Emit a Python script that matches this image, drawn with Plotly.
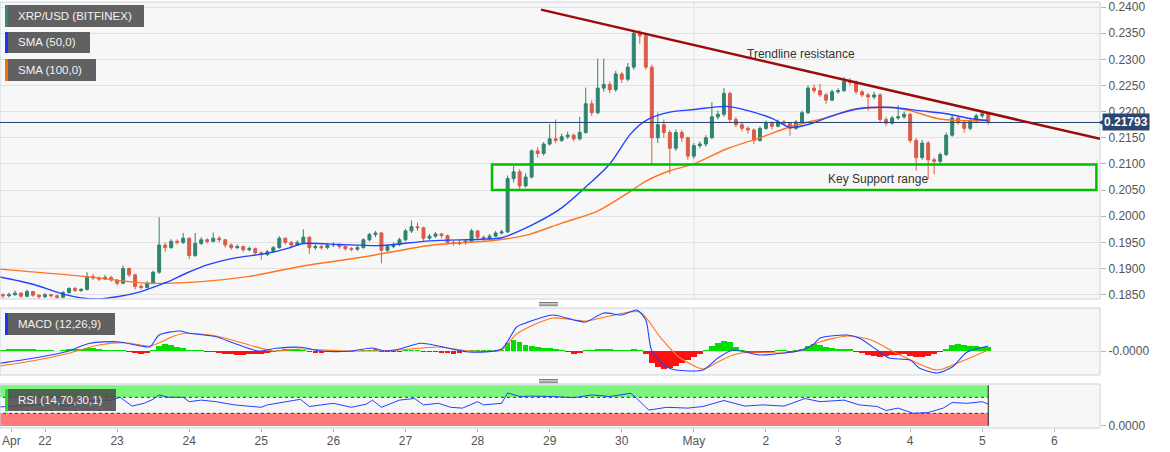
import pandas as pd
import plotly.graph_objects as go

# ---------------- data ----------------
BASE = pd.Timestamp("2020-04-22 00:00")


def at(h):
    return BASE + pd.Timedelta(hours=h)


CANDLE_START = "2020-04-21 10:00"   # 2-hour candles
first_open = 0.1850
close = [
    .1848, .1850, .1853, .1847, .1856, .1849, .1846, .1850, .1848, .1845,
    .1854, .1862, .1858, .1860, .1885, .1882, .1880, .1883, .1878, .1872,
    .1900, .1888, .1866, .1864, .1872, .1893, .1945, .1940, .1952, .1950,
    .1958, .1925, .1948, .1955, .1952, .1958, .1955, .1945, .1940, .1942,
    .1936, .1938, .1930, .1927, .1932, .1940, .1958, .1950, .1945, .1950,
    .1960, .1940, .1942, .1940, .1945, .1946, .1942, .1938, .1937, .1940,
    .1955, .1965, .1968, .1935, .1942, .1946, .1955, .1972, .1980, .1978,
    .1958, .1962, .1966, .1963, .1950, .1948, .1950, .1952, .1972, .1960,
    .1958, .1962, .1968, .1970, .2072, .2085, .2058, .2075, .2125, .2120,
    .2138, .2148, .2145, .2152, .2155, .2148, .2160, .2215, .2198, .2245,
    .2252, .2242, .2272, .2262, .2285, .2350, .2345, .2285, .2150, .2175,
    .2160, .2130, .2160, .2150, .2115, .2135, .2138, .2150, .2190, .2195,
    .2235, .2185, .2175, .2168, .2165, .2145, .2168, .2178, .2172, .2180,
    .2178, .2168, .2180, .2198, .2245, .2240, .2232, .2222, .2238, .2240,
    .2258, .2256, .2238, .2232, .2228, .2232, .2185, .2178, .2188, .2190,
    .2195, .2145, .2112, .2140, .2108, .2105, .2118, .2155, .2188, .2180,
    .2168, .2182, .2192, .2196, .21793]
high = [
    .1853, .1854, .1858, .1855, .1860, .1857, .1851, .1853, .1852, .1850,
    .1857, .1864, .1865, .1863, .1893, .1890, .1885, .1888, .1886, .1880,
    .1906, .1902, .1890, .1870, .1876, .1896, .1998, .1950, .1956, .1956,
    .1968, .1960, .1968, .1960, .1958, .1969, .1962, .1957, .1948, .1946,
    .1944, .1942, .1940, .1933, .1936, .1943, .1962, .1960, .1953, .1954,
    .1975, .1962, .1946, .1945, .1948, .1950, .1948, .1944, .1941, .1944,
    .1958, .1968, .1972, .1970, .1946, .1950, .1959, .1976, .1992, .1988,
    .1980, .1966, .1970, .1968, .1965, .1953, .1954, .1956, .1976, .1974,
    .1963, .1966, .1972, .1974, .2078, .2096, .2090, .2082, .2128, .2132,
    .2142, .2176, .2185, .2158, .2162, .2158, .2190, .2246, .2222, .2301,
    .2301, .2258, .2278, .2276, .2293, .2356, .2356, .2348, .2290, .2198,
    .2185, .2165, .2166, .2165, .2152, .2140, .2143, .2155, .2218, .2202,
    .2245, .2238, .2190, .2180, .2172, .2168, .2172, .2183, .2182, .2185,
    .2184, .2180, .2184, .2202, .2250, .2252, .2253, .2236, .2242, .2245,
    .2266, .2264, .2260, .2242, .2236, .2238, .2235, .2190, .2192, .2212,
    .2200, .2198, .2150, .2146, .2144, .2112, .2122, .2160, .2194, .2192,
    .2184, .2186, .2196, .2202, .2200]
low = [
    .1843, .1845, .1848, .1844, .1845, .1846, .1842, .1844, .1845, .1842,
    .1844, .1852, .1855, .1855, .1858, .1878, .1876, .1878, .1875, .1868,
    .1870, .1884, .1860, .1860, .1862, .1870, .1890, .1932, .1938, .1946,
    .1947, .1918, .1922, .1945, .1948, .1950, .1950, .1940, .1936, .1937,
    .1932, .1933, .1926, .1917, .1924, .1930, .1938, .1946, .1941, .1943,
    .1948, .1928, .1936, .1936, .1937, .1941, .1938, .1934, .1933, .1934,
    .1938, .1952, .1960, .1910, .1932, .1939, .1943, .1952, .1968, .1972,
    .1953, .1955, .1959, .1958, .1946, .1944, .1945, .1946, .1950, .1955,
    .1952, .1955, .1960, .1965, .1968, .2065, .2050, .2055, .2072, .2112,
    .2116, .2135, .2140, .2142, .2148, .2143, .2145, .2158, .2192, .2195,
    .2238, .2235, .2238, .2255, .2258, .2280, .2330, .2280, .2100, .2140,
    .2150, .2081, .2125, .2142, .2108, .2110, .2130, .2133, .2148, .2185,
    .2190, .2178, .2170, .2162, .2158, .2138, .2142, .2165, .2166, .2170,
    .2174, .2154, .2165, .2177, .2195, .2235, .2228, .2215, .2220, .2234,
    .2238, .2250, .2233, .2228, .2202, .2224, .2180, .2172, .2175, .2184,
    .2186, .2140, .2087, .2108, .2071, .2080, .2100, .2115, .2152, .2175,
    .2160, .2164, .2178, .2188, .2175]

# moving averages (hours from Apr 22 00:00, value)
sma50_h = [-15, -4, 5, 12, 18, 24, 32, 35, 41, 47, 54, 63, 74, 81, 86, 98, 112, 128, 145, 152,
           161, 172, 181, 188, 195, 200, 208, 216, 227, 234, 242, 248, 255, 262, 271, 282, 291, 300, 308, 314]
sma50_v = [.1884, .1870, .1853, .1844, .1842, .1846, .1856, .1862, .1875, .1891, .1907, .1920, .1929, .1939,
           .1948, .1946, .1944, .1953, .1956, .1959, .1980, .2016, .2061, .2100, .2158, .2183, .2199, .2204,
           .2210, .2202, .2187, .2170, .2177, .2192, .2206, .2208, .2202, .2196, .2187, .2183]
sma100_h = [-15, 13, 34, 52, 68, 85, 107, 129, 150, 161, 172, 184, 195, 200, 208, 216, 227, 238, 249, 260,
            269, 282, 288, 297, 305, 314]
sma100_v = [.1899, .1885, .1872, .1875, .1885, .1904, .1923, .1945, .1954, .1965, .1987, .2010, .2048, .2067,
            .2087, .2100, .2129, .2150, .2173, .2188, .2204, .2208, .2202, .2187, .2183, .2183]

# MACD (units of 1e-4)
macd_h = [-15, -4, 7, 15, 24, 32, 35, 38, 45, 48, 57, 63, 71, 77, 85, 92, 102, 109, 113, 118, 125, 131, 141,
          152, 157, 160, 169, 176, 180, 186, 192, 197, 200, 202, 207, 210, 219, 224, 229, 233, 238, 246, 252,
          256, 258, 267, 271, 277, 281, 288, 291, 297, 302, 307, 314]
macd_v = [-12.3, -7.3, -0.7, 7.7, 9.3, 5, 4.3, 16, 20, 17.7, 14.3, 7.7, 0, 2.7, 3.7, 0, 0, 3, 0, 2, 7.7, 5, -1,
          2, 24, 28, 36, 31, 29, 38, 36, 41, 31, 0, -16, -19, -19, -7, 1, -1, -4, -2, 1, 7, 13, 16, 13, 1, -7,
          -9, -17, -22, -16, -1, 5]
signal_h = [-15, -4, 7, 18, 27, 35, 43, 47, 57, 68, 76, 85, 96, 107, 118, 131, 141, 152, 157, 169, 180, 188,
            198, 205, 211, 219, 224, 229, 235, 246, 252, 258, 267, 275, 284, 297, 303, 314]
signal_v = [-15, -9.7, -3, 6, 8.3, 5, 15, 17.7, 15, 6, 0, 2, 0.5, 0, 1, 4, 0, 1, 17, 33, 30, 35, 39, 13, -6,
            -18, -11, -4, -1, -2, 1, 9, 15, 11, -3, -19, -13, 1]
hist = [
    1, 1.5, 2, 2, 1.5, 1.5, 1, 0.5, 0.3, 0,
    0.5, 1.5, 2, 2.5, 3.5, 3, 2, 1, 0.5, 0.3,
    0.5, -0.5, -2, -2.5, -1.5, 1, 5, 7, 6, 4.5,
    3, 0.5, 0.5, 0.3, -0.5, -1, -2, -2.5, -3, -3.5,
    -3.5, -3, -3, -2.5, -1.5, -0.5, 1, 1.5, 1.5, 1.5,
    1, -0.5, -1.5, -1.5, -1, -0.5, 0, -0.3, -0.3, 0,
    0.5, 1, 1.2, -0.5, -1, -1, -0.5, 0.5, 1, 0.5,
    -0.5, -1, -1, -1.5, -2, -2.5, -2, -1, 0.5, 0.5,
    0.3, 0.5, 0.8, 1, 8, 11, 9, 6, 5, 4,
    3.5, 3, 2, 1, -1, -2.5, -1.5, 0.5, 1, 2,
    2.5, 2, 1, 0.5, 0.8, 1.5, 0.5, -3, -12, -16,
    -18, -17, -15, -12, -9, -6, -3, 1, 5, 8,
    10, 9, 4, 1, -1.5, -2, -1.5, -0.5, -0.3, 0.5,
    0.3, -0.5, 0.5, 1.5, 5, 7, 6, 4, 3, 2,
    2, 1.5, -0.5, -2, -3.5, -5, -6, -5, -4, -3.5,
    -3, -5, -6, -6, -5, -3, -1, 2, 6, 7,
    6, 5, 5, 4.5, 4]

# RSI
rsi_h = [-15, -12, -4, 2, 7, 13, 22, 25, 29, 33, 36, 38, 41, 46, 48, 52, 57, 63, 72, 74, 81, 85, 88, 96, 102,
         107, 109, 112, 118, 123, 126, 131, 135, 139, 144, 146, 152, 154, 158, 162, 169, 176, 182, 188, 195,
         197, 201, 207, 214, 219, 226, 233, 239, 246, 253, 258, 266, 271, 277, 280, 284, 289, 294, 299, 302,
         307, 312, 314]
rsi_v = [46, 47, 50, 55, 47, 61, 63, 70, 48, 55, 65, 76, 70, 70, 59, 63, 59, 51, 45, 51, 59, 65, 47, 55, 45,
         53, 63, 45, 63, 67, 51, 55, 45, 43, 59, 51, 55, 81, 72, 73, 72, 69, 76, 72, 80, 67, 38, 45, 43, 47,
         62, 48, 51, 48, 67, 59, 63, 51, 47, 37, 43, 30, 32, 43, 57, 55, 59, 53]

last_price = 0.21793
trend_start = (165.1, 0.2395)
trend_end = (351.2, 0.2148)
support_low, support_high = 0.2050, 0.2099
support_from, support_to = 148.8, 350.0

day_ticks_h = [-11.2] + [24 * k for k in range(15)]
day_ticks_txt = ["Apr", "22", "23", "24", "25", "26", "27", "28", "29", "30", "May", "2", "3", "4", "5", "6"]
price_ticks = [0.1850, 0.1900, 0.1950, 0.2000, 0.2050, 0.2100, 0.2150, 0.2200, 0.2250, 0.2300, 0.2350, 0.2400]

# ---------------- layout helpers ----------------
W, H = 1170, 452
ML, MR, MT, MB = 0, 70, 2, 24
PW = W - ML - MR
PH = H - MT - MB


def px_x(px):
    return (px - ML) / PW


def px_y(py):
    return (H - MB - py) / PH


UP = "#2f8470"
DN = "#dc5b49"
BLUE = "#2342ff"
ORANGE = "#ff7420"
FONT = "Arial, Liberation Sans, sans-serif"

t = pd.date_range(CANDLE_START, periods=len(close), freq="2h")
opens = [first_open] + close[:-1]

fig = go.Figure()

fig.add_trace(go.Candlestick(
    x=t, open=opens, high=high, low=low, close=close,
    increasing=dict(line=dict(color=UP, width=1), fillcolor=UP),
    decreasing=dict(line=dict(color=DN, width=1), fillcolor=DN),
    whiskerwidth=0, xaxis="x", yaxis="y", hoverinfo="skip", showlegend=False))
fig.add_trace(go.Scatter(x=[at(h) for h in sma100_h], y=sma100_v, mode="lines",
                         line=dict(color=ORANGE, width=1.4, shape="spline", smoothing=0.8),
                         xaxis="x", yaxis="y", hoverinfo="skip"))
fig.add_trace(go.Scatter(x=[at(h) for h in sma50_h], y=sma50_v, mode="lines",
                         line=dict(color=BLUE, width=1.4, shape="spline", smoothing=0.8),
                         xaxis="x", yaxis="y", hoverinfo="skip"))

fig.add_trace(go.Bar(x=t, y=hist, width=2 * 3600 * 1000 * 0.95,
                     marker=dict(color=["#00e000" if v >= 0 else "#ff1010" for v in hist], line=dict(width=0)),
                     xaxis="x", yaxis="y2", hoverinfo="skip"))
fig.add_trace(go.Scatter(x=[at(h) for h in signal_h], y=signal_v, mode="lines",
                         line=dict(color=ORANGE, width=1.1, shape="spline", smoothing=0.7),
                         xaxis="x", yaxis="y2", hoverinfo="skip"))
fig.add_trace(go.Scatter(x=[at(h) for h in macd_h], y=macd_v, mode="lines",
                         line=dict(color=BLUE, width=1.1, shape="spline", smoothing=0.7),
                         xaxis="x", yaxis="y2", hoverinfo="skip"))

fig.add_trace(go.Scatter(x=[at(h) for h in rsi_h], y=rsi_v, mode="lines",
                         line=dict(color=BLUE, width=1),
                         xaxis="x", yaxis="y3", hoverinfo="skip"))

axis_font = dict(family=FONT, size=12, color="#555555")
common_y = dict(side="right", anchor="x", ticks="outside", ticklen=5, tickcolor="#b5b5b5",
                zeroline=False, tickfont=axis_font, fixedrange=True, showline=False)

fig.update_layout(
    width=W, height=H, margin=dict(l=ML, r=MR, t=MT, b=MB),
    paper_bgcolor="white", plot_bgcolor="#f7f7f7", showlegend=False,
    font=dict(family=FONT),
    xaxis=dict(type="date", range=[at(-14.98), at(351.2)], anchor="y3", domain=[0, 1],
               tickvals=[at(h) for h in day_ticks_h], ticktext=day_ticks_txt,
               ticks="outside", ticklen=3, tickcolor="#b5b5b5", showgrid=False,
               ticklabeloverflow="allow", ticklabelstandoff=-1,
               showline=False, zeroline=False, rangeslider=dict(visible=False),
               tickfont=axis_font, fixedrange=True),
    yaxis=dict(domain=[px_y(299), px_y(2)], range=[0.18418, 0.24096], tickvals=price_ticks,
               tickformat=".4f", showgrid=True, gridcolor="#e2e2e2", gridwidth=1, **common_y),
    yaxis2=dict(domain=[px_y(375), px_y(308)], range=[-24, 43], tickvals=[0], ticktext=["-0.0000"],
                showgrid=True, gridcolor="#e2e2e2", **common_y),
    yaxis3=dict(domain=[px_y(428), px_y(384)], range=[-6.75, 103.25], tickvals=[0], ticktext=["0.0000"],
                showgrid=False, **common_y),
    bargap=0,
)

shapes = []
BORDER = "#cdd2df"
# May 1 vertical separator in each panel
for yr in ["y domain", "y2 domain", "y3 domain"]:
    shapes.append(dict(type="line", xref="x", yref=yr, x0=at(216), x1=at(216), y0=0, y1=1,
                       line=dict(color="#e0e0e0", width=1), layer="below"))
# RSI bands
last_t = t[-1]
shapes.append(dict(type="rect", xref="x", yref="y3", x0=at(-16), x1=last_t, y0=70, y1=100,
                   fillcolor="#7cf57c", line=dict(width=0), layer="between"))
shapes.append(dict(type="rect", xref="x", yref="y3", x0=at(-16), x1=last_t, y0=-1.5, y1=30,
                   fillcolor="#fd7b7b", line=dict(width=0), layer="between"))
for lvl in (70, 30):
    shapes.append(dict(type="line", xref="x", yref="y3", x0=at(-16), x1=last_t, y0=lvl, y1=lvl,
                       line=dict(color="#333333", width=1, dash="dot"), layer="between"))
shapes.append(dict(type="line", xref="x", yref="y3", x0=last_t, x1=last_t, y0=-1.5, y1=100,
                   line=dict(color="#222222", width=1), layer="between"))
# panel borders
for xr, yr in [("x domain", "y domain"), ("x domain", "y2 domain"), ("x domain", "y3 domain")]:
    shapes.append(dict(type="rect", xref=xr, yref=yr, x0=0, x1=1, y0=0, y1=1,
                       line=dict(color=BORDER, width=1), fillcolor="rgba(0,0,0,0)", layer="above"))
# price line
shapes.append(dict(type="line", xref="paper", yref="y", x0=0, x1=1, y0=last_price, y1=last_price,
                   line=dict(color="#23416b", width=1), layer="above"))
# key support range
shapes.append(dict(type="rect", xref="x", yref="y", x0=at(support_from), x1=at(support_to),
                   y0=support_low, y1=support_high, line=dict(color="#00c000", width=2.5),
                   fillcolor="rgba(0,0,0,0)", layer="above"))
# trendline resistance
shapes.append(dict(type="line", xref="x", yref="y", x0=at(trend_start[0]), y0=trend_start[1],
                   x1=at(trend_end[0]), y1=trend_end[1], line=dict(color="#9a0c0c", width=2.5),
                   layer="above"))
# panel resize handles
for base_y in (302.5, 379.5):
    for k in range(3):
        yy = px_y(base_y + 1.6 * k)
        shapes.append(dict(type="line", xref="paper", yref="paper", x0=px_x(539), x1=px_x(558),
                           y0=yy, y1=yy, line=dict(color="#7a7a7a", width=1)))

# legend boxes
legend_boxes = [
    ("XRP/USD (BITFINEX)", 5, 144, 5, 27, "#2e8b74"),
    ("SMA (50,0)", 5, 90, 32, 53, "#1a35ff"),
    ("SMA (100,0)", 5, 96, 59, 81, "#ff6a10"),
    ("MACD (12,26,9)", 5, 115, 313, 335, "#1a35ff"),
    ("RSI (14,70,30,1)", 5, 116, 389, 411, "#22dd22"),
]
annotations = []
for label, x0, x1, y0, y1, col in legend_boxes:
    shapes.append(dict(type="rect", xref="paper", yref="paper", x0=px_x(x0), x1=px_x(x1),
                       y0=px_y(y1), y1=px_y(y0), fillcolor="rgba(72,72,72,0.86)", line=dict(width=0),
                       layer="above"))
    shapes.append(dict(type="rect", xref="paper", yref="paper", x0=px_x(x0), x1=px_x(x0 + 3),
                       y0=px_y(y1), y1=px_y(y0), fillcolor=col, line=dict(width=0), layer="above"))
    annotations.append(dict(xref="paper", yref="paper", x=px_x(16), y=px_y((y0 + y1) / 2),
                            xanchor="left", yanchor="middle", showarrow=False, text=label,
                            font=dict(family=FONT, size=11.5, color="#f2f2f2")))

# price label
shapes.append(dict(type="path", xref="paper", yref="y",
                   path=f"M {px_x(1098)} {last_price} L {px_x(1103)} {last_price + 0.00045} "
                        f"L {px_x(1103)} {last_price - 0.00045} Z",
                   fillcolor="#2b4770", line=dict(width=0)))
annotations.append(dict(xref="paper", yref="y", x=px_x(1102), y=last_price, xanchor="left",
                        yanchor="middle", showarrow=False, text="<b>0.21793</b>",
                        bgcolor="#2b4770", borderpad=1,
                        font=dict(family=FONT, size=12, color="white")))

annotations.append(dict(xref="x", yref="y", x=at(251.7), y=0.2310, text="Trendline resistance",
                        showarrow=False, font=dict(family=FONT, size=12, color="#333333")))
annotations.append(dict(xref="x", yref="y", x=at(277.3), y=0.20712, text="Key Support range",
                        showarrow=False, font=dict(family=FONT, size=12, color="#333333")))

fig.update_layout(shapes=shapes, annotations=annotations)

fig.write_html("out.html", config={"displayModeBar": False},
               post_script="document.body.style.margin='0';document.body.style.overflow='hidden';")
